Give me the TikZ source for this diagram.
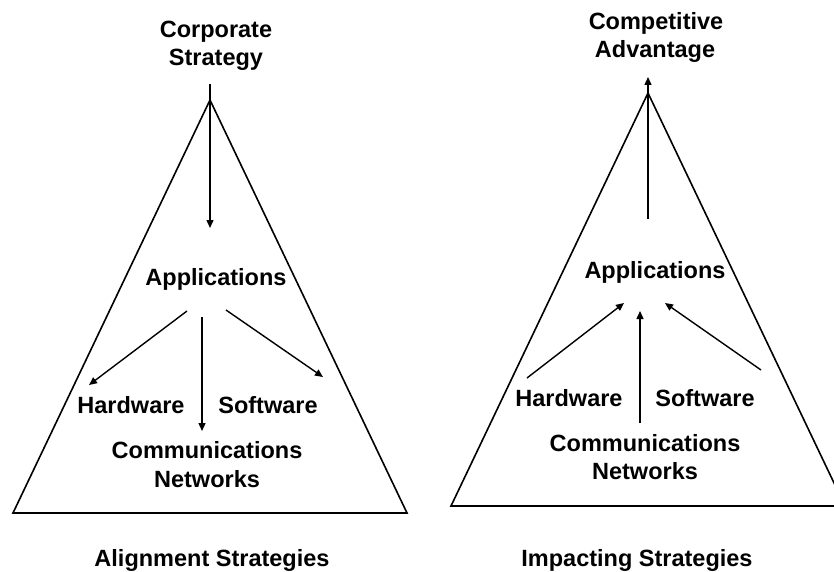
\documentclass[tikz,border=0pt]{standalone}
\usepackage{fontspec}
\setmainfont{Liberation Sans}
\usetikzlibrary{arrows.meta}
\tikzset{
  lbl/.style={font=\fontsize{23.5}{28}\selectfont\bfseries, inner sep=0pt, align=center, anchor=base},
  tri/.style={line width=1.6pt, line join=miter},
  arr/.style={line width=1.4pt, -{Triangle[length=8pt,width=7pt]}},
  shaft/.style={line width=1.4pt}
}
\begin{document}
\begin{tikzpicture}[x=1pt,y=-1pt]
\useasboundingbox (0,0) rectangle (834,572);
% ---------- left: alignment ----------
\coordinate (LA) at (210,100);
\coordinate (LBL) at (13,513);
\coordinate (LBR) at (407,513);
\draw[tri] (LA) -- (LBL) -- (LBR) -- cycle;
\node[lbl] (cs1) at (216,38) {Corporate};
\node[lbl] (cs2) at (216,66) {Strategy};
\node[lbl] (app1) at (216,285) {Applications};
\node[lbl] (hw1) at (131,413) {Hardware};
\node[lbl] (sw1) at (268,413) {Software};
\node[lbl] (cn1a) at (207,458) {Communications};
\node[lbl] (cn1b) at (207,487) {Networks};
\node[lbl] (al) at (212,566) {Alignment Strategies};
\coordinate (csS) at (210,84);
\coordinate (csE) at (210,228);
\draw[arr] (csS) -- (csE);
\coordinate (a1L) at (187,311);
\coordinate (hw1T) at (89,385);
\coordinate (a1M) at (202,317);
\coordinate (cn1T) at (202,431);
\coordinate (a1R) at (226,310);
\coordinate (sw1T) at (323,377);
\draw[arr] (a1L) -- (hw1T);
\draw[arr] (a1M) -- (cn1T);
\draw[arr] (a1R) -- (sw1T);
% ---------- right: impacting ----------
\coordinate (RA) at (648,93);
\coordinate (RBL) at (451,506);
\coordinate (RBR) at (845,506);
\draw[tri] (RA) -- (RBL) -- (RBR) -- cycle;
\node[lbl] (ca1) at (656,30) {Competitive};
\node[lbl] (ca2) at (655,58) {Advantage};
\node[lbl] (app2) at (655,278) {Applications};
\node[lbl] (hw2) at (569,406) {Hardware};
\node[lbl] (sw2) at (705,406) {Software};
\node[lbl] (cn2a) at (645,451) {Communications};
\node[lbl] (cn2b) at (645,479) {Networks};
\node[lbl] (im) at (637,566) {Impacting Strategies};
\coordinate (caS) at (648,219);
\coordinate (caE) at (648,77);
\draw[arr] (caS) -- (caE);
\coordinate (hw2T) at (527,378);
\coordinate (a2L) at (624,303);
\coordinate (cn2T) at (640,423);
\coordinate (a2M) at (640,311);
\coordinate (sw2T) at (761,370);
\coordinate (a2R) at (665,303);
\draw[arr] (hw2T) -- (a2L);
\draw[arr] (cn2T) -- (a2M);
\draw[arr] (sw2T) -- (a2R);
\end{tikzpicture}
\end{document}
